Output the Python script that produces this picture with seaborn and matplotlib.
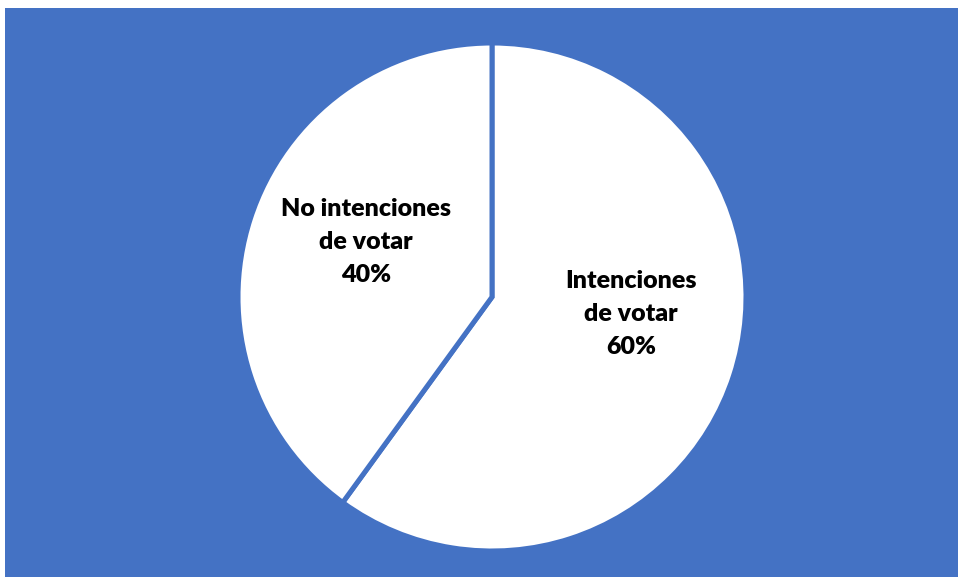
import matplotlib
matplotlib.use("Agg")
import matplotlib.pyplot as plt
import seaborn as sns

# datos del gráfico
categorias = ["Intenciones\nde votar", "No intenciones\nde votar"]
porcentajes = [60, 40]

sns.set_style("white")
plt.rcParams['font.family'] = ['Lato', 'DejaVu Sans']

AZUL = "#4472C4"

fig = plt.figure(figsize=(9.58, 5.77), dpi=100, facecolor="white")
# el área azul ocupa casi toda la figura (margen blanco arriba e izquierda)
ax = fig.add_axes([5 / 958, 0, 953 / 958, 569 / 577])
ax.set_facecolor(AZUL)

# coordenadas en píxeles dentro de los ejes
cx, cy, r = 487, 280, 254
wedges, _ = ax.pie(
    porcentajes,
    colors=["white", "white"],
    startangle=90,
    counterclock=False,
    center=(cx, cy),
    radius=r,
    wedgeprops=dict(edgecolor=AZUL, linewidth=3.6),
    frame=True,
)
ax.set_xlim(0, 953)
ax.set_ylim(0, 569)
ax.set_aspect("equal")
ax.set_xticks([])
ax.set_yticks([])
for s in ax.spines.values():
    s.set_visible(False)

# etiquetas dentro de cada porción
offsets = [(139, -17), (-126, 55)]
for cat, pct, (dx, dy) in zip(categorias, porcentajes, offsets):
    ax.text(cx + dx, cy + dy, f"{cat}\n{pct}%", ha="center", va="center",
            fontsize=18, fontweight="heavy", color="black", linespacing=1.6)

fig.savefig("out.png", dpi=100, facecolor="white")
